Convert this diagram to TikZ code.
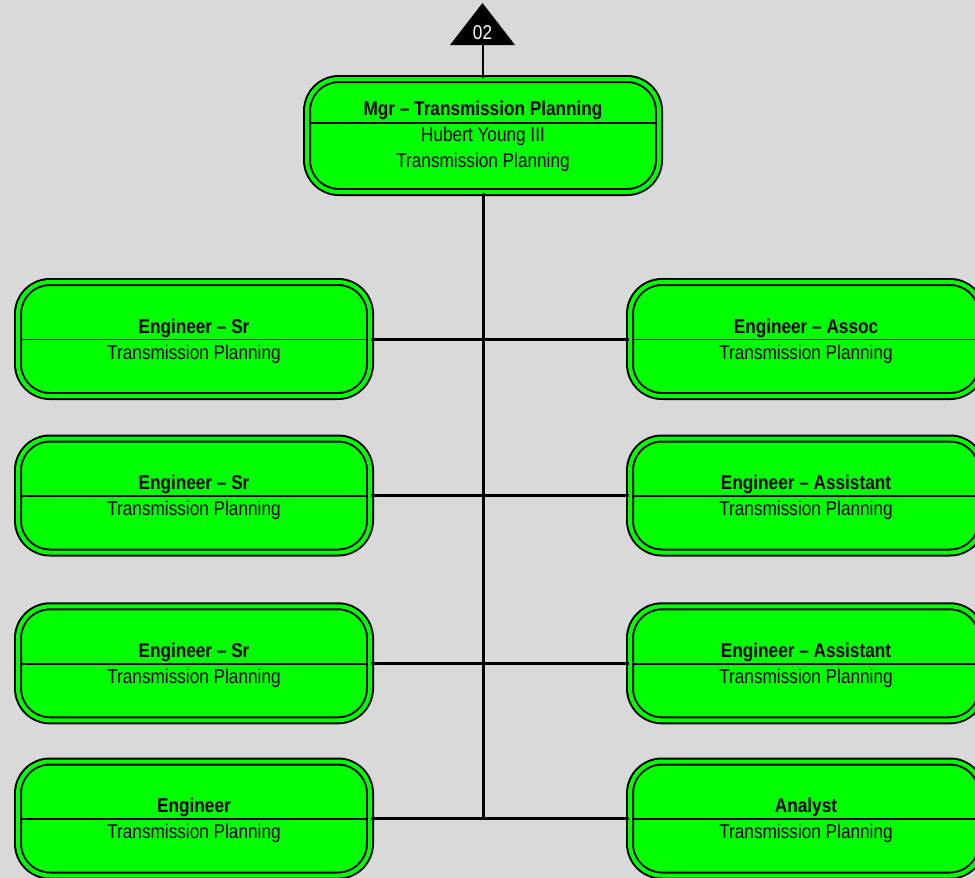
\documentclass[tikz,border=0pt]{standalone}
\usepackage{fontspec}
\setmainfont{Liberation Sans}[FakeStretch=0.86]
\usepackage{tikz}
\usetikzlibrary{positioning,calc}
\definecolor{OrgGreen}{HTML}{00FF00}
\definecolor{OrgGray}{HTML}{D9D9D9}

\begin{document}
\begin{tikzpicture}[
    x=1pt, y=-1pt,
    post/.style={draw=black, line width=2pt, double=OrgGreen, double distance=4pt,
      fill=OrgGreen, rounded corners=32pt, minimum width=352pt, minimum height=114pt,
      inner sep=0pt},
    ttl/.style={font=\fontsize{20}{24}\selectfont\bfseries, anchor=base, inner sep=0pt},
    sub/.style={font=\fontsize{20}{24}\selectfont, anchor=base, inner sep=0pt},
    divider/.style={line width=1.8pt},
    link/.style={line width=3pt}
  ]
    \useasboundingbox (0,0) rectangle (975,878);
    \fill[OrgGray] (0,0) rectangle (975,878);

    % off-page marker
    \fill (450,45) -- (482.5,3) -- (515,45) -- cycle;
    \node[sub, text=white] (page) at (482.5,39) {02};
    \coordinate (pagebase) at (483,45);

    % manager
    \node[post, minimum height=113pt] (mgr) at (483,135.5) {};
    \draw[divider] ($(mgr.west)+(5,-12.5)$) -- ($(mgr.east)+(-5,-12.5)$);
    \node[ttl] (mgrt) at ($(mgr.center)+(0,-20.5)$) {Mgr -- Transmission Planning};
    \node[sub] (mgrn) at ($(mgr.center)+(0,6.2)$) {Hubert Young III};
    \node[sub] (mgrd) at ($(mgr.center)+(0,32.2)$) {Transmission Planning};

    % left column
    \node[post] (sr1) at (194,339) {};
    \node[post] (sr2) at (194,495.5) {};
    \node[post] (sr3) at (194,663.3) {};
    \node[post] (eng) at (194,818.5) {};
    % right column
    \node[post] (assoc) at (806,339) {};
    \node[post] (asst1) at (806,495.5) {};
    \node[post] (asst2) at (806,663.3) {};
    \node[post] (anlst) at (806,818.5) {};

    \foreach \b/\t in {sr1/Engineer -- Sr, sr2/Engineer -- Sr, sr3/Engineer -- Sr,
        eng/Engineer, assoc/Engineer -- Assoc, asst1/Engineer -- Assistant,
        asst2/Engineer -- Assistant, anlst/Analyst} {
      \draw[divider] ($(\b.west)+(5,0.5)$) -- ($(\b.east)+(-5,0.5)$);
      \node[ttl] (\b t) at ($(\b.center)+(0,-6)$) {\t};
      \node[sub] (\b d) at ($(\b.center)+(0,20)$) {Transmission Planning};
    }

    % connectors
    \coordinate (trunkend) at (483,818.5);
    \draw[line width=2pt] (pagebase) -- (mgr.north);
    \draw[link] (mgr.south) -- (trunkend);
    \draw[link] (sr1.east) -- (assoc.west);
    \draw[link] (sr2.east) -- (asst1.west);
    \draw[link] (sr3.east) -- (asst2.west);
    \draw[link] (eng.east) -- (anlst.west);
  \end{tikzpicture}
\end{document}
